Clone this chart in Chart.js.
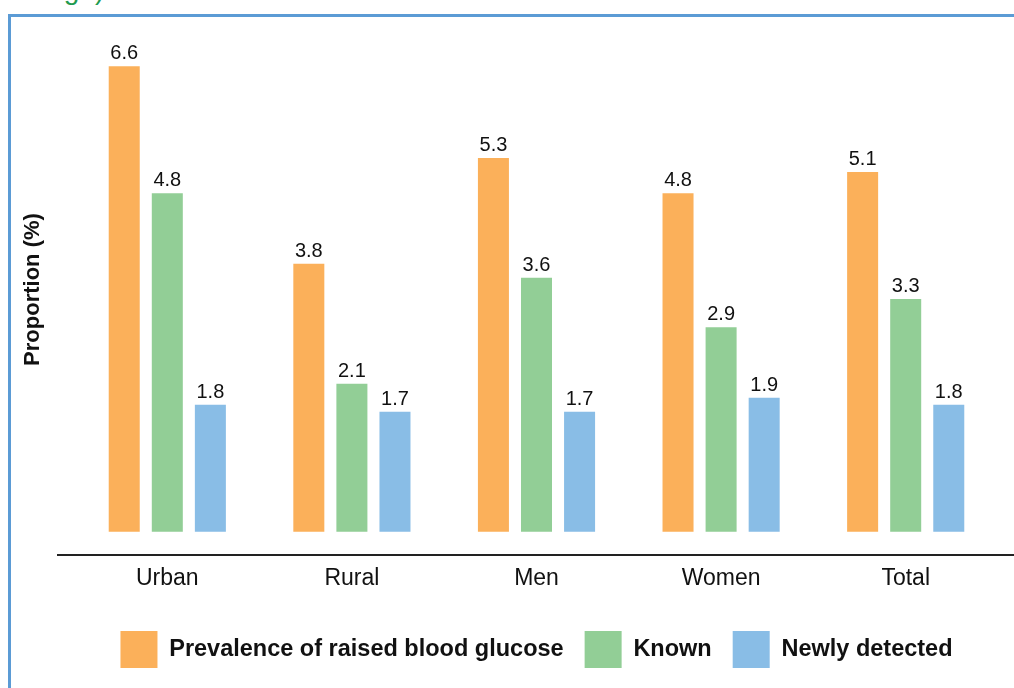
<!DOCTYPE html>
<html>
<head>
<meta charset="utf-8">
<script src="https://cdn.jsdelivr.net/npm/chart.js@4"></script>
<style>
  html, body { margin: 0; padding: 0; background: #fff; }
  body { width: 1014px; height: 688px; position: relative; overflow: hidden; font-family: "Liberation Sans", Arial, sans-serif; }
  #head { position: absolute; left: -14px; top: -24px; font-size: 28px; line-height: 28px; color: #1f9b50; white-space: nowrap; }
  #frame { position: absolute; left: 8px; top: 14px; width: 1020px; height: 700px; border-left: 3px solid #5b9bd5; border-top: 3px solid #5b9bd5; }
  #wrap { position: absolute; left: 0; top: 0; width: 1014px; height: 688px; }
</style>
</head>
<body>
<div id="head">rcentage)</div>
<div id="frame"></div>
<div id="wrap"><canvas id="chart"></canvas></div>
<script>
const categories = ['Urban', 'Rural', 'Men', 'Women', 'Total'];
const seriesNames = ['Prevalence of raised blood glucose', 'Known', 'Newly detected'];
const prevalence = [6.6, 3.8, 5.3, 4.8, 5.1];
const known = [4.8, 2.1, 3.6, 2.9, 3.3];
const newlyDetected = [1.8, 1.7, 1.7, 1.9, 1.8];
const colors = ['#fbb05a', '#92ce96', '#89bde6'];

const yMin = -0.33;
const yMax = 7.2;

const valueLabels = {
    id: 'valueLabels',
    afterDatasetsDraw(chart) {
        const ctx = chart.ctx;
        ctx.save();
        ctx.font = '20px "Liberation Sans", Arial, sans-serif';
        ctx.fillStyle = '#111';
        ctx.textAlign = 'center';
        ctx.textBaseline = 'alphabetic';
        chart.data.datasets.forEach((ds, i) => {
            chart.getDatasetMeta(i).data.forEach((bar, j) => {
                ctx.fillText(ds.data[j].toFixed(1), bar.x, bar.y - 7);
            });
        });
        ctx.restore();
    }
};

// long baseline under the bars, running past the plot on both sides
const baseLine = {
    id: 'baseLine',
    afterDraw(chart) {
        const ctx = chart.ctx;
        const y = chart.chartArea.bottom;
        ctx.save();
        ctx.strokeStyle = '#222';
        ctx.lineWidth = 2;
        ctx.beginPath();
        ctx.moveTo(chart.chartArea.left - 18, y);
        ctx.lineTo(chart.width, y);
        ctx.stroke();
        ctx.restore();
    }
};

const datasets = [prevalence, known, newlyDetected].map((vals, i) => ({
    label: seriesNames[i],
    data: vals,
    backgroundColor: colors[i],
    borderWidth: 0,
    categoryPercentage: 0.7,
    barPercentage: 0.72
}));

new Chart(document.getElementById('chart'), {
    type: 'bar',
    data: { labels: categories, datasets: datasets },
    options: {
        responsive: true,
        maintainAspectRatio: false,
        animation: false,
        layout: { padding: { top: 24, left: 0, right: 16, bottom: 10 } },
        plugins: {
            tooltip: { enabled: false },
            legend: {
                position: 'bottom',
                fullSize: false,
                labels: {
                    boxWidth: 37,
                    boxHeight: 37,
                    padding: 21,
                    color: '#111',
                    font: { family: '"Liberation Sans", Arial, sans-serif', size: 23.5, weight: 'bold' }
                }
            }
        },
        scales: {
            x: {
                grid: { display: false, drawTicks: false },
                border: { display: false },
                ticks: {
                    color: '#111',
                    padding: 10,
                    font: { family: '"Liberation Sans", Arial, sans-serif', size: 23 }
                },
                afterFit(scale) { scale.height = 55; }
            },
            y: {
                min: yMin,
                max: yMax,
                grid: { display: false, drawTicks: false },
                border: { display: false },
                ticks: { display: false },
                title: {
                    display: true,
                    text: 'Proportion (%)',
                    color: '#111',
                    padding: { top: 20, bottom: 4 },
                    font: { family: '"Liberation Sans", Arial, sans-serif', size: 22, weight: 'bold' }
                },
                afterFit(scale) { scale.width = 75; }
            }
        }
    },
    plugins: [valueLabels, baseLine]
});
</script>
</body>
</html>
